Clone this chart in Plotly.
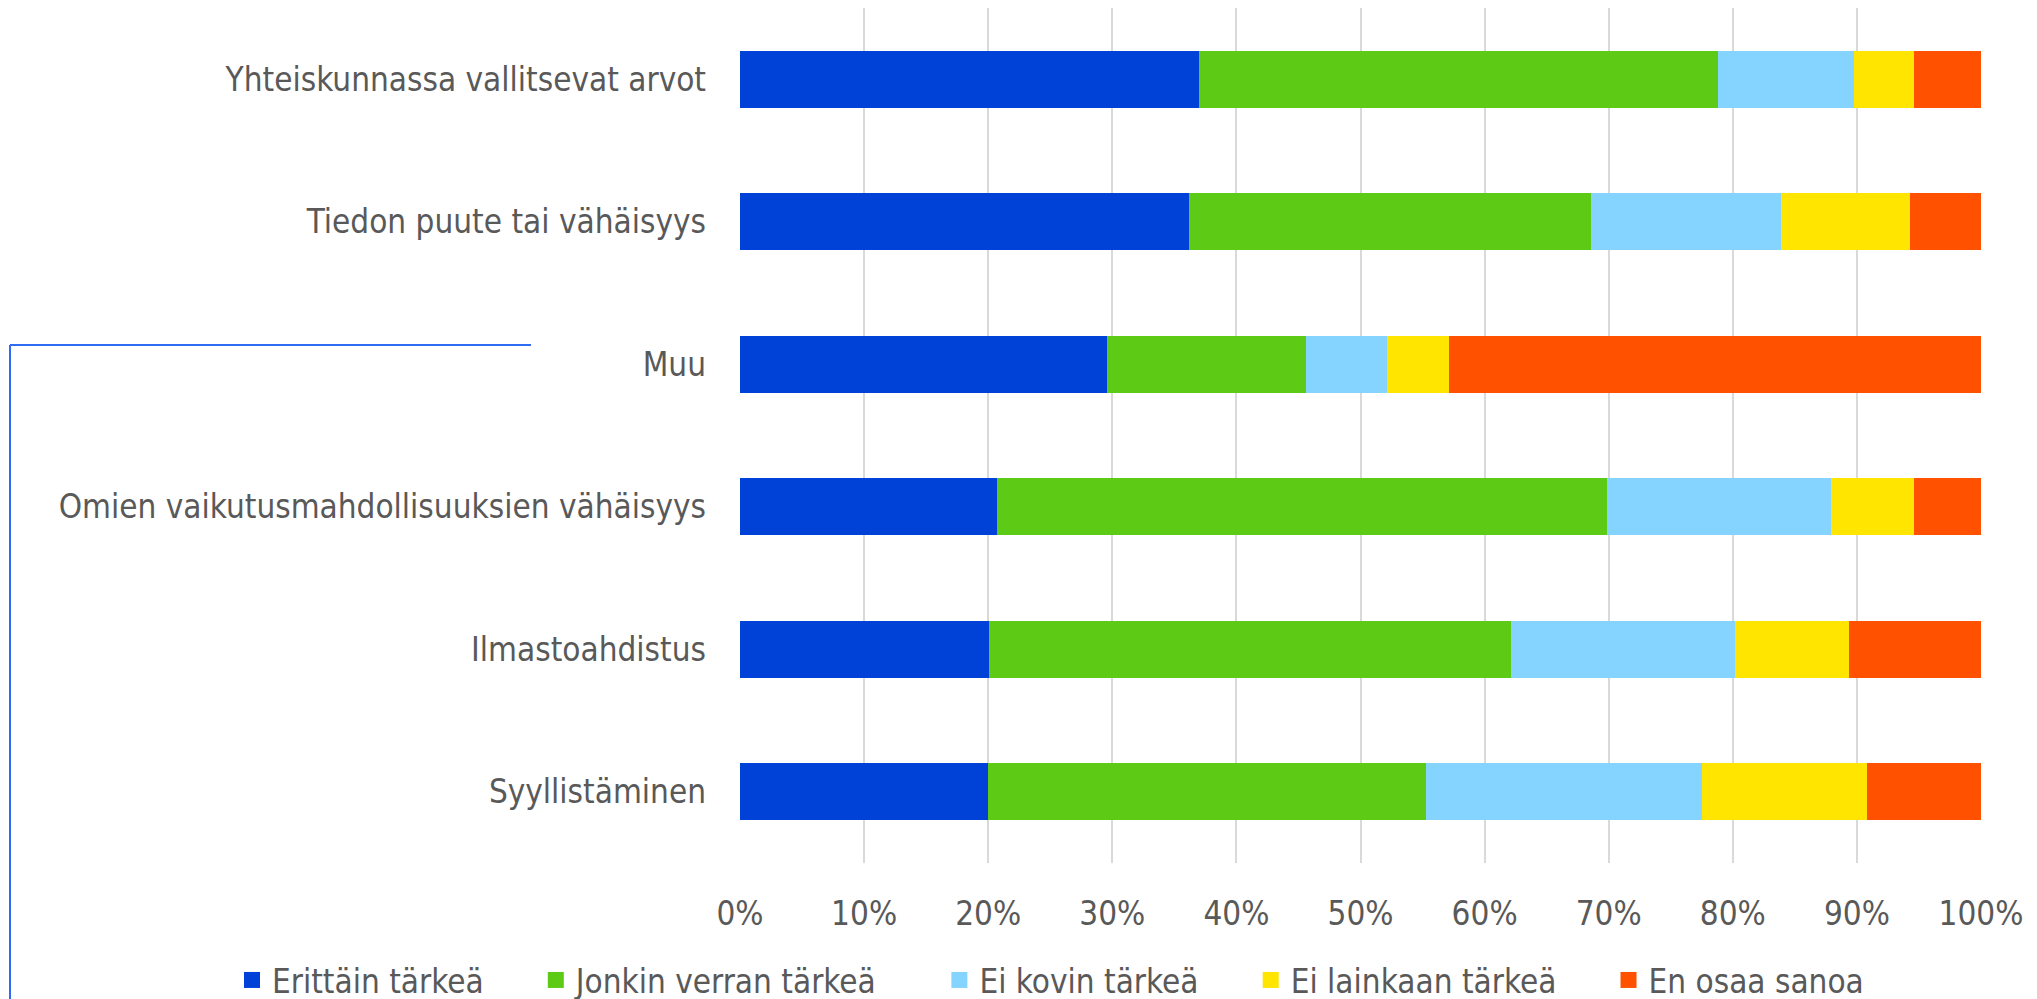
import plotly.graph_objects as go

# Kategoriat ylhäältä alas
categories = [
    "Yhteiskunnassa vallitsevat arvot",
    "Tiedon puute tai vähäisyys",
    "Muu",
    "Omien vaikutusmahdollisuuksien vähäisyys",
    "Ilmastoahdistus",
    "Syyllistäminen",
]

erittain = [37.0, 36.2, 29.6, 20.7, 20.1, 20.0]
jonkin_verran = [41.8, 32.4, 16.0, 49.2, 42.0, 35.3]
ei_kovin = [11.0, 15.3, 6.5, 18.0, 18.1, 22.2]
ei_lainkaan = [4.8, 10.4, 5.0, 6.7, 9.2, 13.3]
en_osaa = [5.4, 5.7, 42.9, 5.4, 10.6, 9.2]

series_names = ["Erittäin tärkeä", "Jonkin verran tärkeä", "Ei kovin tärkeä",
                "Ei lainkaan tärkeä", "En osaa sanoa"]
series_values = [erittain, jonkin_verran, ei_kovin, ei_lainkaan, en_osaa]
colors = ["#0041D8", "#5DCB15", "#85D3FF", "#FFE500", "#FF5100"]

FONT = "DejaVu Sans Condensed, Liberation Sans Narrow, Liberation Sans, sans-serif"
GREY = "#595959"

# sivun body-marginaali (8 px) huomioitu
OFF = 8
W, H = 2037 - 2 * OFF, 999 - OFF
L, R, T, B = 740 - OFF, 2037 - OFF - 1981, 0, H + OFF - 863

# lisää väliä legendan kohtien väliin (sitovat välilyönnit)
pads = [5, 6, 5, 5, 5]

fig = go.Figure()
for name, vals, col, p in zip(series_names, series_values, colors, pads):
    fig.add_trace(go.Bar(
        y=categories, x=vals, name=name, orientation="h",
        marker=dict(color=col, line=dict(width=0)),
        width=0.4, showlegend=False,
    ))
    # legendaa varten isompi neliö
    fig.add_trace(go.Scatter(
        x=[None], y=[None], mode="markers", name=name + "\u00a0" * p,
        marker=dict(symbol="square", size=20, color=col),
        hoverinfo="skip",
    ))

# sivun pikselit -> paper-koordinaatit
def px_x(p):
    return (p - OFF - L) / (W - L - R)

def px_y(p):
    return (H + OFF - B - p) / (H - T - B)

line_col = "#2F6BF5"
fig.add_shape(type="line", xref="paper", yref="paper",
              x0=px_x(10), x1=px_x(531), y0=px_y(345), y1=px_y(345),
              line=dict(color=line_col, width=2))
fig.add_shape(type="line", xref="paper", yref="paper",
              x0=px_x(10), x1=px_x(10), y0=px_y(345), y1=px_y(1010),
              line=dict(color=line_col, width=2))

fig.update_layout(
    barmode="stack",
    width=W, height=H,
    margin=dict(l=L, r=R, t=T, b=B, autoexpand=False),
    paper_bgcolor="white", plot_bgcolor="white",
    font=dict(family=FONT, size=33, color=GREY),
    xaxis=dict(
        range=[0, 100], dtick=10, ticksuffix="%",
        showgrid=True, gridcolor="#D9D9D9", gridwidth=2,
        zeroline=False, showline=False, ticks="",
        ticklabelstandoff=28,
        tickfont=dict(size=33, color=GREY),
    ),
    yaxis=dict(
        autorange="reversed", showgrid=False, zeroline=False,
        showline=False, ticks="", ticklabelstandoff=33,
        tickfont=dict(size=33, color=GREY),
    ),
    legend=dict(
        orientation="h",
        x=px_x(232), xanchor="left",
        y=px_y(980), yanchor="middle",
        font=dict(size=33, color=GREY),
        itemsizing="trace", traceorder="normal",
    ),
)

fig.write_html("out.html")
